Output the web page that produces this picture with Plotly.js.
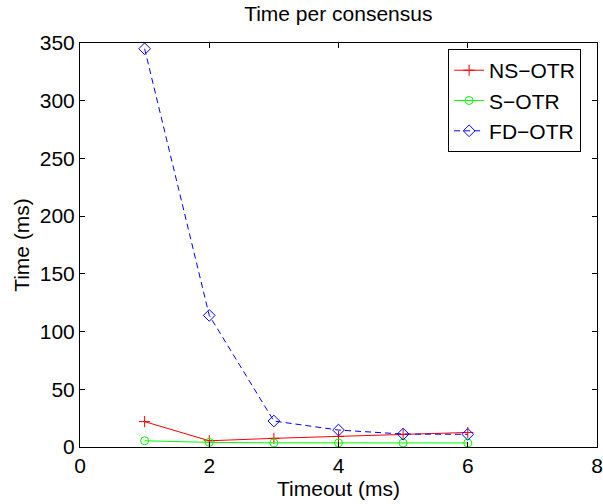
<!DOCTYPE html>
<html>
<head>
<script src="https://cdn.plot.ly/plotly-3.0.1.min.js"></script>
<style>html,body{margin:0;padding:0;background:#fff;}</style>
</head>
<body>
<div id="chart" style="width:603px;height:504px;"></div>
<script>
const timeout = [1, 2, 3, 4, 5, 6];
const nsOtr = [22, 5.4, 7.5, 9.2, 11, 12.6];
const sOtr = [5.4, 4, 3.6, 3.5, 3.5, 3.5];
const fdOtr = [345, 114, 22.5, 14.7, 11.2, 11];
const seriesNames = ['NS\u2212OTR', 'S\u2212OTR', 'FD\u2212OTR'];
const xTicks = [0, 2, 4, 6, 8];
const yTicks = [0, 50, 100, 150, 200, 250, 300, 350];

const font = 'Liberation Sans, Arial, sans-serif';
const fs = 21;
const traces = [
  {x: timeout, y: nsOtr, name: seriesNames[0], mode: 'lines+markers',
   line: {color: '#ff0000', width: 1}, marker: {symbol: 'cross-thin-open', size: 8, color: '#ff0000', line: {color: '#ff0000', width: 1}}},
  {x: timeout, y: sOtr, name: seriesNames[1], mode: 'lines+markers',
   line: {color: '#00ff00', width: 1}, marker: {symbol: 'circle-open', size: 8, color: '#00ff00', line: {color: '#00ff00', width: 1}}},
  {x: timeout, y: fdOtr, name: seriesNames[2], mode: 'lines+markers',
   line: {color: '#0000ff', width: 1, dash: '6px,4px'}, marker: {symbol: 'diamond-open', size: 9, color: '#0000ff', line: {color: '#0000ff', width: 1}}}
];
const axisCommon = {
  showgrid: false, zeroline: false, showline: true, linecolor: '#000', linewidth: 1,
  mirror: 'ticks', ticks: 'inside', ticklen: 5, tickcolor: '#000',
  tickfont: {family: font, size: fs, color: '#000'}
};
const layout = {
  width: 603, height: 504,
  margin: {l: 80, r: 6, t: 43, b: 57},
  paper_bgcolor: '#fff', plot_bgcolor: '#fff',
  title: {text: 'Time per consensus', font: {family: font, size: fs, color: '#000'}, x: 0.561, xanchor: 'center', y: 0.972, yanchor: 'middle'},
  xaxis: Object.assign({}, axisCommon, {range: [0, 8], tickvals: xTicks,
    title: {text: 'Timeout (ms)', font: {family: font, size: fs, color: '#000'}, standoff: 0}}),
  yaxis: Object.assign({}, axisCommon, {range: [0, 350], tickvals: yTicks,
    title: {text: 'Time (ms)', font: {family: font, size: fs, color: '#000'}, standoff: 4}}),
  showlegend: true,
  legend: {x: 0.712, xanchor: 'left', y: 0.985, yanchor: 'top', bgcolor: '#fff', bordercolor: '#000', borderwidth: 1,
    font: {family: font, size: fs, color: '#000'}, tracegroupgap: 0}
};
Plotly.newPlot('chart', traces, layout, {displayModeBar: false});
</script>
</body>
</html>
